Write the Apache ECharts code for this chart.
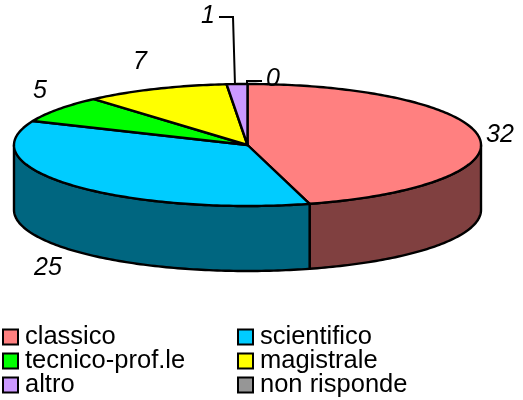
<!DOCTYPE html>
<html>
<head>
<meta charset="utf-8">
<style>html,body{margin:0;padding:0;background:#fff}#c{width:523px;height:400px}</style>
<script src="https://cdn.jsdelivr.net/npm/echarts@6/dist/echarts.min.js"></script>
</head>
<body>
<div id="c"></div>
<script>
var categories = ['classico','scientifico','tecnico-prof.le','magistrale','altro','non risponde'];
var values = [32,25,5,7,1,0];
var topColors = ['#FF8080','#00CCFF','#00FF00','#FFFF00','#CC99FF','#969696'];
var sideColors = ['#804040','#006680','#008000','#808000','#664D80','#4B4B4B'];

// layout only
var pie = {cx:247.5, cy:145, rx:233.5, ry:61, depth:65};
var labelAt = [[500,135],[48,268],[40,91],[140,62],[208,16],[273,79]];
var leaders = [null,null,null,null,[[219,17],[233,17],[235,85]],[[262,81],[247,81],[247,85]]];
var legendCols = [2,237];
var legendRows = [324,348,372];
var FONT = '"Liberation Sans", Arial, sans-serif';

var total = values.reduce(function(a,b){return a+b;},0);
var chart = echarts.init(document.getElementById('c'),null,{renderer:'canvas'});

function pt(deg,dy){
  var r = deg*Math.PI/180;
  return [pie.cx+pie.rx*Math.sin(r), pie.cy-pie.ry*Math.cos(r)+(dy||0)];
}
function arc(a,b,dy){
  var out=[], n=Math.max(1,Math.ceil(Math.abs(b-a)));
  for(var i=0;i<=n;i++){ out.push(pt(a+(b-a)*i/n,dy)); }
  return out;
}
var stroke = {stroke:'#000',lineWidth:2.4,lineJoin:'round'};
function makeRender(idx){
  return function(params,api){
    var before = values.slice(0,idx).reduce(function(a,b){return a+b;},0);
    var v = api.value(0);
    var a = before/total*360, b = (before+v)/total*360;
    var kids = [];
    if(v>0){
      var sa = Math.max(a,90), sb = Math.min(b,270);
      if(sb>sa){
        kids.push({type:'polygon',shape:{points:arc(sa,sb,0).concat(arc(sb,sa,pie.depth))},
          style:Object.assign({fill:sideColors[idx]},stroke)});
      }
      kids.push({type:'polygon',shape:{points:[[pie.cx,pie.cy]].concat(arc(a,b,0))},
        style:Object.assign({fill:topColors[idx]},stroke)});
    }
    if(leaders[idx]){
      kids.push({type:'polyline',shape:{points:leaders[idx]},style:{fill:'none',stroke:'#000',lineWidth:2},z2:5});
    }
    kids.push({type:'text',x:labelAt[idx][0],y:labelAt[idx][1],z2:6,style:{
      text:String(v),font:'italic 25px '+FONT,fill:'#000',align:'center',verticalAlign:'middle'}});
    return {type:'group',children:kids};
  };
}
var series = categories.map(function(name,i){
  return {type:'custom',name:name,coordinateSystem:'none',silent:true,
    itemStyle:{color:topColors[i]},
    renderItem:makeRender(i),data:[[values[i]]]};
});
var legends = categories.map(function(name,i){
  return {show:true,orient:'horizontal',left:legendCols[i%2],top:legendRows[Math.floor(i/2)],
    padding:0,itemWidth:15,itemHeight:15,selectedMode:false,icon:'rect',
    textStyle:{fontFamily:'Liberation Sans',fontSize:25.5,color:'#000',lineHeight:24,padding:[0,0,0,2]},
    data:[{name:name,icon:'rect',itemStyle:{color:topColors[i],borderColor:'#000',borderWidth:2}}]};
});
chart.setOption({
  animation:false,
  backgroundColor:'#fff',
  color:topColors,
  legend:legends,
  series:series
});
</script>
</body>
</html>
